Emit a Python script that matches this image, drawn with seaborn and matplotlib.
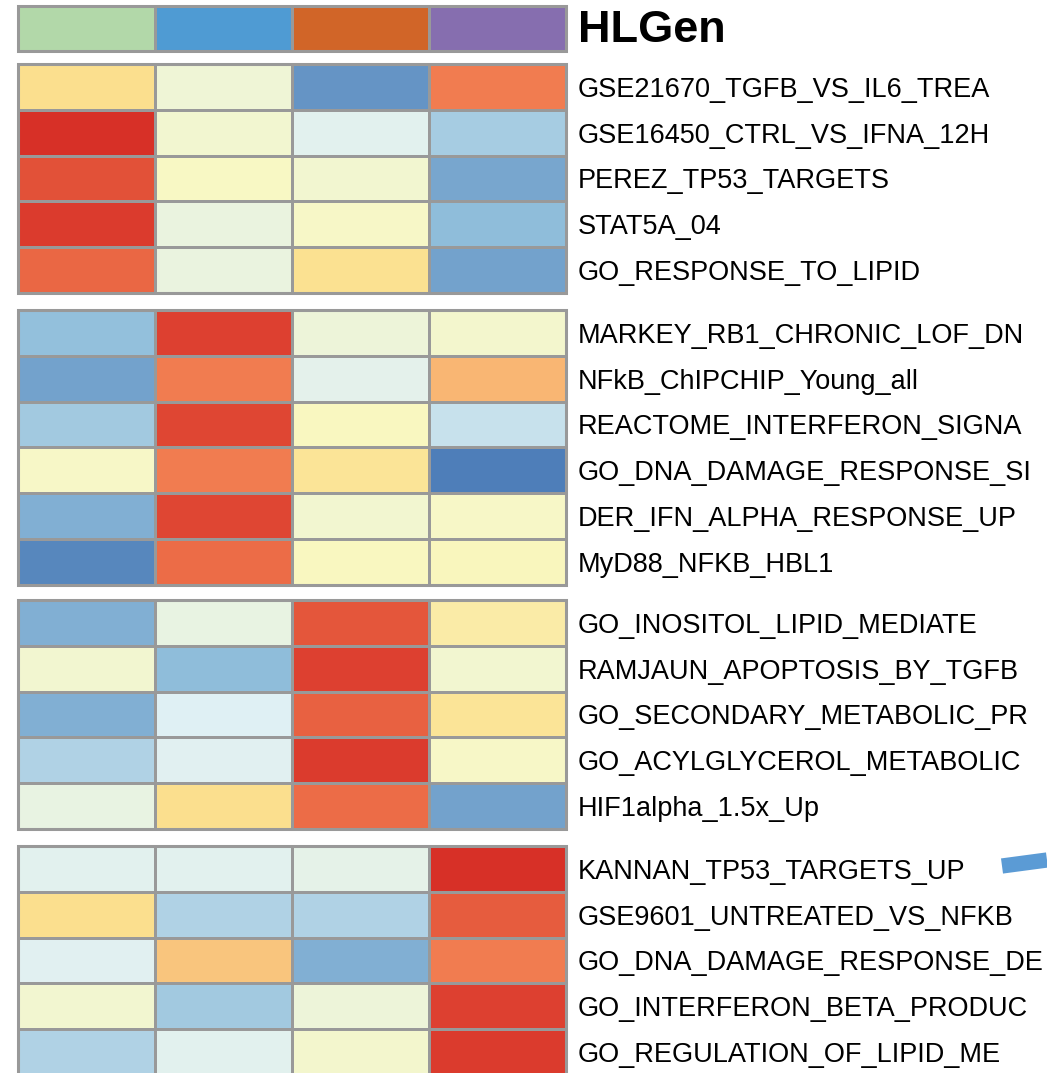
import numpy as np
import pandas as pd
import matplotlib
matplotlib.use("Agg")
import matplotlib.pyplot as plt
from matplotlib.colors import LinearSegmentedColormap, ListedColormap
from matplotlib.patches import Rectangle
from matplotlib.lines import Line2D
import seaborn as sns

# ----------------------------------------------------------
# Data (row-scaled scores)
# ----------------------------------------------------------
samples = ["S1", "S2", "S3", "S4"]
sample_colors = ["#B2D8A9", "#4F9BD3", "#D16528", "#866EAF"]

group1_labels = ["GSE21670_TGFB_VS_IL6_TREA", "GSE16450_CTRL_VS_IFNA_12H",
                 "PEREZ_TP53_TARGETS", "STAT5A_04", "GO_RESPONSE_TO_LIPID"]
group1_values = [[1.0, -0.4, -2.55, 2.1],
                 [2.95, -0.3, -0.85, -1.7],
                 [2.6, -0.05, -0.3, -2.3],
                 [2.85, -0.6, -0.1, -2.0],
                 [2.35, -0.6, 0.9, -2.35]]

group2_labels = ["MARKEY_RB1_CHRONIC_LOF_DN", "NFkB_ChIPCHIP_Young_all",
                 "REACTOME_INTERFERON_SIGNA", "GO_DNA_DAMAGE_RESPONSE_SI",
                 "DER_IFN_ALPHA_RESPONSE_UP", "MyD88_NFKB_HBL1"]
group2_values = [[-1.95, 2.8, -0.45, -0.2],
                 [-2.35, 2.1, -0.8, 1.45],
                 [-1.75, 2.75, 0.05, -1.3],
                 [-0.1, 2.1, 0.8, -2.85],
                 [-2.2, 2.75, -0.3, -0.1],
                 [-2.7, 2.3, 0.0, 0.1]]

group3_labels = ["GO_INOSITOL_LIPID_MEDIATE", "RAMJAUN_APOPTOSIS_BY_TGFB",
                 "GO_SECONDARY_METABOLIC_PR", "GO_ACYLGLYCEROL_METABOLIC",
                 "HIF1alpha_1.5x_Up"]
group3_values = [[-2.2, -0.65, 2.55, 0.5],
                 [-0.3, -2.0, 2.8, -0.3],
                 [-2.2, -1.0, 2.45, 0.8],
                 [-1.6, -0.95, 2.85, -0.1],
                 [-0.65, 1.0, 2.3, -2.35]]

group4_labels = ["KANNAN_TP53_TARGETS_UP", "GSE9601_UNTREATED_VS_NFKB",
                 "GO_DNA_DAMAGE_RESPONSE_DE", "GO_INTERFERON_BETA_PRODUC",
                 "GO_REGULATION_OF_LIPID_ME"]
group4_values = [[-0.9, -0.9, -0.75, 2.95],
                 [1.0, -1.6, -1.6, 2.5],
                 [-0.95, 1.3, -2.2, 2.15],
                 [-0.3, -1.75, -0.45, 2.8],
                 [-1.6, -0.85, -0.2, 2.85]]

groups = [(group1_labels, group1_values),
          (group2_labels, group2_values),
          (group3_labels, group3_values),
          (group4_labels, group4_values)]

# pheatmap-like palette (reversed RdYlBu, 7 colours, slightly muted like the source)
palette = ["#4575B4", "#91BFDB", "#DFF0F4", "#F9F8C2", "#FBDF8E", "#F68A57", "#D73027"]
cmap = LinearSegmentedColormap.from_list("rdylbu_r", palette, N=100)

W, H = 1047, 1073
fig = plt.figure(figsize=(W / 100, H / 100), dpi=100)
plt.rcParams["font.family"] = ["Liberation Sans", "DejaVu Sans"]

grid_color = "#999999"
left_px, width_px = 18, 548
row_px = 45.8


def px_axes(top, height):
    return fig.add_axes([left_px / W, 1 - (top + height) / H, width_px / W, height / H])


def frame(ax):
    ax.add_patch(Rectangle((0, 0), 1, 1, transform=ax.transAxes, fill=False,
                           edgecolor=grid_color, lw=2.2, clip_on=False, zorder=5))


# ----------------------------------------------------------
# Column annotation bar
# ----------------------------------------------------------
ax_top = px_axes(6, 45)
sns.heatmap(pd.DataFrame([list(range(len(samples)))], columns=samples),
            cmap=ListedColormap(sample_colors), cbar=False,
            linewidths=1.8, linecolor=grid_color,
            xticklabels=False, yticklabels=False, ax=ax_top)
frame(ax_top)
fig.text(578 / W, 1 - 31 / H, "HLGen", fontsize=32.5, fontweight="bold",
         ha="left", va="center")

# ----------------------------------------------------------
# Row groups
# ----------------------------------------------------------
tops = [64, 310, 600, 846]
for top, (labels, values) in zip(tops, groups):
    ax = px_axes(top, row_px * len(labels))
    frame_df = pd.DataFrame(values, index=labels, columns=samples)
    sns.heatmap(frame_df, cmap=cmap, vmin=-3, vmax=3, cbar=False,
                linewidths=1.8, linecolor=grid_color,
                xticklabels=False, yticklabels=True, ax=ax)
    frame(ax)
    ax.yaxis.tick_right()
    ax.tick_params(axis="y", length=0, pad=8.5, labelsize=19.55, labelrotation=0)
    ax.set_ylabel("")
    ax.set_xlabel("")

# stray blue stroke at the right edge
fig.add_artist(Line2D([1002 / W, 1.0], [1 - 866 / H, 1 - 860 / H],
                      color="#5B9BD5", lw=11, solid_capstyle="butt"))

fig.savefig("out.png", dpi=100, facecolor="white")
